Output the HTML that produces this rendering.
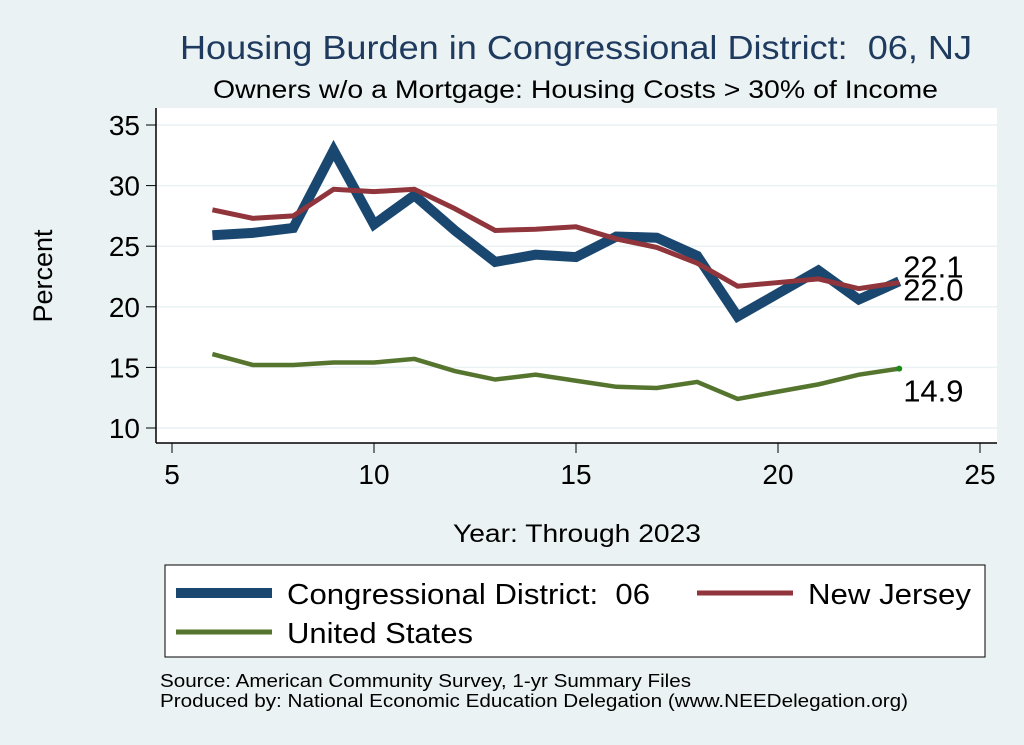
<!DOCTYPE html>
<html><head><meta charset="utf-8"><style>
body{margin:0;background:#eaf2f3;}
svg{display:block;font-family:"Liberation Sans",sans-serif;}
text{white-space:pre;}
</style></head><body>
<svg id="chart" width="1024" height="745" viewBox="0 0 1024 745" xml:space="preserve">
<rect x="0" y="0" width="1024" height="745" fill="#eaf2f3"/>
<rect x="156" y="108" width="841" height="335" fill="#ffffff"/>
<text x="180" y="59" font-size="33" fill="#1e3a5f" textLength="792" lengthAdjust="spacingAndGlyphs">Housing Burden in Congressional District:  06, NJ</text>
<text x="213" y="98" font-size="25" fill="#000" textLength="725" lengthAdjust="spacingAndGlyphs">Owners w/o a Mortgage: Housing Costs &gt; 30% of Income</text>
<g id="grid"></g><g id="axes"></g><g id="series"></g>
<text x="52" y="276" font-size="27" text-anchor="middle" transform="rotate(-90 52 276)">Percent</text>
<text x="453" y="542" font-size="25" textLength="248" lengthAdjust="spacingAndGlyphs">Year: Through 2023</text>
<g>
<rect x="165" y="565" width="820" height="92" fill="#fff" stroke="#000" stroke-width="1"/>
<line x1="176" y1="593" x2="272" y2="593" stroke="#1a476f" stroke-width="10"/>
<text x="287" y="604" font-size="29" textLength="363" lengthAdjust="spacingAndGlyphs">Congressional District:  06</text>
<line x1="697" y1="593" x2="793" y2="593" stroke="#90353b" stroke-width="5"/>
<text x="808" y="604" font-size="29" textLength="163" lengthAdjust="spacingAndGlyphs">New Jersey</text>
<line x1="176" y1="632" x2="272" y2="632" stroke="#55752f" stroke-width="5"/>
<text x="287" y="643" font-size="29" textLength="186" lengthAdjust="spacingAndGlyphs">United States</text>
</g>
<text x="160" y="687" font-size="18" textLength="531" lengthAdjust="spacingAndGlyphs">Source: American Community Survey, 1-yr Summary Files</text>
<text x="160" y="707" font-size="18" textLength="748" lengthAdjust="spacingAndGlyphs">Produced by: National Economic Education Delegation (www.NEEDelegation.org)</text>
</svg>
<script>
const years=[6,7,8,9,10,11,12,13,14,15,16,17,18,19,20,21,22,23];
const district=[25.9,26.1,26.5,32.9,26.8,29.2,26.3,23.7,24.3,24.1,25.8,25.7,24.2,19.2,21.1,23.0,20.6,22.1];
const newJersey=[28.0,27.3,27.5,29.7,29.5,29.7,28.1,26.3,26.4,26.6,25.6,24.9,23.6,21.7,22.0,22.3,21.5,22.0];
const unitedStates=[16.1,15.2,15.2,15.4,15.4,15.7,14.7,14.0,14.4,13.9,13.4,13.3,13.8,12.4,13.0,13.6,14.4,14.9];
const xTicks=[5,10,15,20,25];
const yTicks=[10,15,20,25,30,35];
const NS='http://www.w3.org/2000/svg';
const xs=v=>172+(v-5)*(980-172)/20;
const ys=v=>428-(v-10)*(428-125)/25;
function mk(tag,attrs,parent){const e=document.createElementNS(NS,tag);for(const k in attrs)e.setAttribute(k,attrs[k]);parent.appendChild(e);return e;}
const grid=document.getElementById('grid'),axes=document.getElementById('axes'),ser=document.getElementById('series');
yTicks.forEach(t=>{
 const g=mk('line',{x1:156,x2:997,y1:ys(t),y2:ys(t),stroke:'#eaf2f3','stroke-width':1.5},grid);
 
 
 const tk=mk('line',{x1:146,x2:156,y1:ys(t),y2:ys(t),stroke:'#000','stroke-width':1},axes);
 
 
 const l=mk('text',{x:140,y:ys(t)+10,'font-size':28,'text-anchor':'end'},axes);l.textContent=t;
 
 
});
xTicks.forEach(t=>{
 const tk=mk('line',{x1:xs(t),x2:xs(t),y1:443,y2:453,stroke:'#000','stroke-width':1},axes);
 
 
 const l=mk('text',{x:xs(t),y:484,'font-size':28,'text-anchor':'middle'},axes);l.textContent=t;
 
 
});
const ya=mk('line',{x1:156,x2:156,y1:108,y2:443,stroke:'#000','stroke-width':1.5},axes);


const xa=mk('line',{x1:156,x2:997,y1:443,y2:443,stroke:'#000','stroke-width':1.5},axes);


function line(vals,color,w,name){
 const p=mk('polyline',{points:vals.map((v,i)=>xs(years[i])+','+ys(v)).join(' '),fill:'none',stroke:color,'stroke-width':w,'stroke-linejoin':'miter'},ser);
 
 
}
line(unitedStates,'#55752f',4.5,'line-united-states');
line(district,'#1a476f',10,'line-district');
line(newJersey,'#90353b',5,'line-new-jersey');
const last=years.length-1;
const dot=mk('circle',{cx:xs(years[last]),cy:ys(unitedStates[last]),r:3,fill:'#1a8a1a'},ser);


[[district,-4,'label-district-end'],[newJersey,18,'label-nj-end'],[unitedStates,33,'label-us-end']].forEach(([a,dy,n])=>{
 const t=mk('text',{x:xs(years[last])+4,y:ys(a[last])+dy,'font-size':31},ser);t.textContent=a[last].toFixed(1);
 
 
});
</script>
</body></html>
